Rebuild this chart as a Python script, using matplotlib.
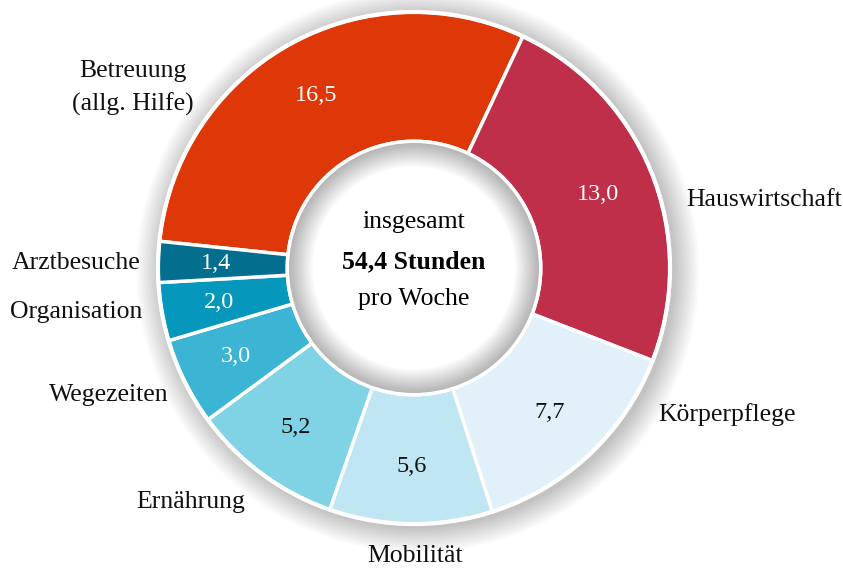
import numpy as np
import matplotlib.pyplot as plt
from matplotlib.patches import Circle, Wedge

# data (Stunden pro Woche)
labels = ['Betreuung\n(allg. Hilfe)', 'Hauswirtschaft', 'Körperpflege', 'Mobilität',
          'Ernährung', 'Wegezeiten', 'Organisation', 'Arztbesuche']
values = [16.5, 13.0, 7.7, 5.6, 5.2, 3.0, 2.0, 1.4]
value_text = ['16,5', '13,0', '7,7', '5,6', '5,2', '3,0', '2,0', '1,4']
colors = ['#DF3808', '#BF2F4A', '#E2F0F9', '#C0E6F4', '#80D3E5', '#3CB4D4', '#0697BC', '#036E8D']
value_colors = ['white', 'white', '#111111', '#111111', '#111111', 'white', 'white', 'white']

# label anchors in pixels of the original layout
label_pos = [(133, 88, 'center'), (686, 200, 'left'), (658, 415, 'left'), (415, 556, 'center'),
             (191, 502, 'center'), (109, 395, 'center'), (76, 312, 'center'), (76, 263, 'center')]

plt.rcParams['font.family'] = ['Liberation Serif', 'DejaVu Serif']

W, H = 843, 568
cx, cy, scale = 414, 268, 256
inner = 0.495

fig = plt.figure(figsize=(W / 100, H / 100), dpi=100)
ax = fig.add_axes([0, 0, 1, 1])

wedges, _ = ax.pie(values, colors=colors, startangle=174, counterclock=False, radius=1.0,
                   wedgeprops=dict(width=1 - inner, edgecolor='white', linewidth=2.5))
for w in wedges:
    w.set_zorder(2)

ax.set_xlim(-cx / scale, (W - cx) / scale)
ax.set_ylim(-(H - cy) / scale, cy / scale)
ax.set_aspect('equal')
ax.axis('off')

# soft outer shadow
for i in range(20):
    r = 1.0 + 0.1 * (1 - i / 20)
    ax.add_patch(Circle((0.015, -0.012), r, color='#000000', alpha=0.013, lw=0, zorder=0))
ax.add_patch(Circle((0, 0), 1.0, fill=False, edgecolor='white', lw=3, zorder=3))

# inner white hole with inner shadow
ax.add_patch(Circle((0, 0), inner, color='white', lw=0, zorder=3))
n = 20
for i in range(n):
    r0 = inner - 0.1 * (i + 1) / n
    ax.add_patch(Wedge((0, 0), inner, 0, 360, width=inner - r0, color='#000000',
                       alpha=0.017, lw=0, zorder=4))
ax.add_patch(Circle((0, 0), inner, fill=False, edgecolor='white', lw=2.5, zorder=5))

# value labels inside the ring
total = sum(values)
ang = 174
for v, t, c in zip(values, value_text, value_colors):
    mid = np.deg2rad(ang - v / total * 360 / 2)
    ang -= v / total * 360
    ax.text(0.775 * np.cos(mid), 0.775 * np.sin(mid), t, color=c, fontsize=17.5,
            ha='center', va='center', zorder=6)

# category labels
for lab, (px, py, ha) in zip(labels, label_pos):
    ax.text((px - cx) / scale, (cy - py) / scale, lab, fontsize=18.5, ha=ha, va='center',
            color='#111111', linespacing=1.55, zorder=6)

# centre text
ax.text(0, 0.18, 'insgesamt', fontsize=18.5, ha='center', va='center', zorder=6)
ax.text(0, 0.025, '54,4 Stunden', fontsize=18.5, fontweight='bold', ha='center', va='center', zorder=6)
ax.text(0, -0.12, 'pro Woche', fontsize=18.5, ha='center', va='center', zorder=6)

fig.savefig('out.png', dpi=100)
